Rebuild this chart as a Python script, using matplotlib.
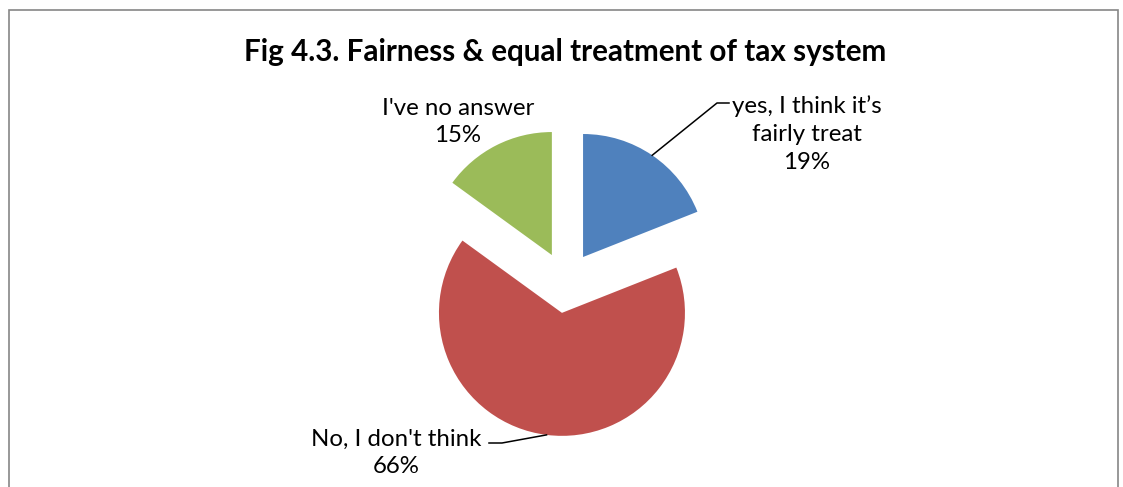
import numpy as np
import matplotlib.pyplot as plt
from matplotlib.patches import Rectangle

# Survey answers
labels = ["yes, I think it\u2019s\nfairly treat", "No, I don't think", "I've no answer"]
shares = [19, 66, 15]
colors = ["#4F81BD", "#C0504D", "#9BBB59"]

W, H = 1123, 487
fig = plt.figure(figsize=(W / 100, H / 100), dpi=100)
ax = fig.add_axes([0, 0, 1, 1])

cx, cy = 565.8, H - 282.4
radius = 123
expl = 30.7

wedges, _ = ax.pie(shares, colors=colors, startangle=90, counterclock=False,
                   explode=[expl] * len(shares), radius=radius, center=(cx, cy),
                   wedgeprops=dict(linewidth=0), frame=True)

ax.set_xlim(0, W)
ax.set_ylim(0, H)
ax.set_aspect('equal')
ax.axis('off')

# chart border (bottom runs off the figure)
ax.add_patch(Rectangle((9, -20), 1109, H - 10 + 20, fill=False,
                       edgecolor='#868686', linewidth=1.2))

font = 'Lato'
ax.text(565, H - 52, "Fig 4.3. Fairness & equal treatment of tax system",
        ha='center', va='center', fontsize=21.3, fontweight='bold',
        family=font, color='black')


def edge_point(w):
    # point on the outer arc along the wedge's bisector
    t = np.deg2rad((w.theta1 + w.theta2) / 2)
    x, y = w.center
    return x + w.r * np.cos(t), y + w.r * np.sin(t)


lab_kw = dict(ha='center', va='center', fontsize=17.3, family=font,
              color='black', linespacing=1.4)

# yes
ax.text(807, H - 134, f"{labels[0]}\n{shares[0]}%", **lab_kw)
x0, y0 = edge_point(wedges[0])
ax.plot([x0, 717, 729], [y0, H - 103, H - 103], color='black', lw=1.1)

# no
ax.text(396, H - 453, f"{labels[1]}\n{shares[1]}%", **lab_kw)
x0, y0 = edge_point(wedges[1])
ax.plot([x0, 502, 489], [y0, H - 443, H - 443], color='black', lw=1.1)

# no answer
ax.text(458, H - 122, f"{labels[2]}\n{shares[2]}%", **lab_kw)

fig.savefig("out.png", dpi=100, facecolor='white')
